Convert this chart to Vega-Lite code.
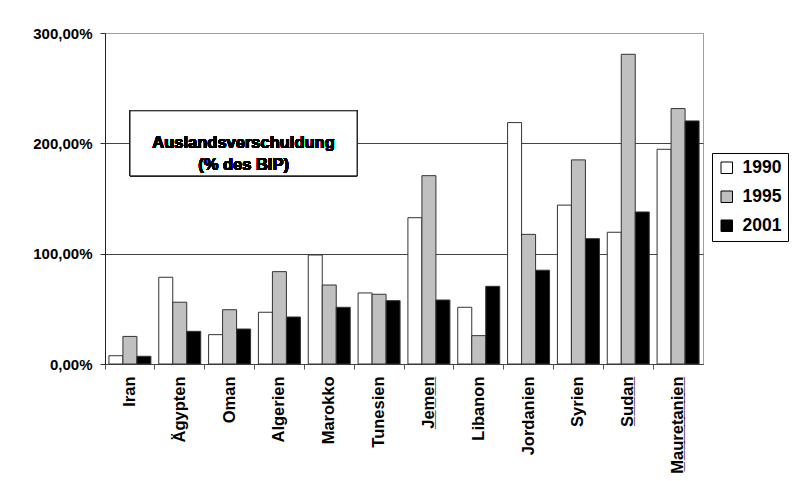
{
  "$schema": "https://vega.github.io/schema/vega-lite/v6.json",
  "width": 598,
  "height": 331,
  "autosize": {"type": "none"},
  "padding": {"left": 105, "top": 33, "right": 91, "bottom": 117},
  "background": "white",
  "config": {
    "font": "Liberation Sans",
    "view": {"stroke": "#a0a0a0", "strokeWidth": 1}
  },
  "data": {
    "values": [
      {"land": "Iran", "jahr": "1990", "wert": 7.5},
      {"land": "Iran", "jahr": "1995", "wert": 25},
      {"land": "Iran", "jahr": "2001", "wert": 7},
      {"land": "Ägypten", "jahr": "1990", "wert": 78.6},
      {"land": "Ägypten", "jahr": "1995", "wert": 56},
      {"land": "Ägypten", "jahr": "2001", "wert": 29.6},
      {"land": "Oman", "jahr": "1990", "wert": 26.6},
      {"land": "Oman", "jahr": "1995", "wert": 49.2},
      {"land": "Oman", "jahr": "2001", "wert": 31.7},
      {"land": "Algerien", "jahr": "1990", "wert": 46.9},
      {"land": "Algerien", "jahr": "1995", "wert": 83.7},
      {"land": "Algerien", "jahr": "2001", "wert": 42.6},
      {"land": "Marokko", "jahr": "1990", "wert": 98.8},
      {"land": "Marokko", "jahr": "1995", "wert": 71.6},
      {"land": "Marokko", "jahr": "2001", "wert": 51.4},
      {"land": "Tunesien", "jahr": "1990", "wert": 64.4},
      {"land": "Tunesien", "jahr": "1995", "wert": 63.2},
      {"land": "Tunesien", "jahr": "2001", "wert": 57.4},
      {"land": "Jemen", "jahr": "1990", "wert": 132.6},
      {"land": "Jemen", "jahr": "1995", "wert": 170.7},
      {"land": "Jemen", "jahr": "2001", "wert": 58},
      {"land": "Libanon", "jahr": "1990", "wert": 51.4},
      {"land": "Libanon", "jahr": "1995", "wert": 25.7},
      {"land": "Libanon", "jahr": "2001", "wert": 70.4},
      {"land": "Jordanien", "jahr": "1990", "wert": 218.8},
      {"land": "Jordanien", "jahr": "1995", "wert": 117.5},
      {"land": "Jordanien", "jahr": "2001", "wert": 85},
      {"land": "Syrien", "jahr": "1990", "wert": 144},
      {"land": "Syrien", "jahr": "1995", "wert": 185},
      {"land": "Syrien", "jahr": "2001", "wert": 113.6},
      {"land": "Sudan", "jahr": "1990", "wert": 119.4},
      {"land": "Sudan", "jahr": "1995", "wert": 280.7},
      {"land": "Sudan", "jahr": "2001", "wert": 137.8},
      {"land": "Mauretanien", "jahr": "1990", "wert": 194.6},
      {"land": "Mauretanien", "jahr": "1995", "wert": 231.5},
      {"land": "Mauretanien", "jahr": "2001", "wert": 220.3}
    ]
  },
  "layer": [
    {
      "mark": {"type": "bar", "stroke": "#333333", "strokeWidth": 1},
      "encoding": {
        "x": {
          "field": "land",
          "type": "nominal",
          "scale": {
            "domain": ["Iran", "Ägypten", "Oman", "Algerien", "Marokko", "Tunesien", "Jemen", "Libanon", "Jordanien", "Syrien", "Sudan", "Mauretanien"],
            "paddingInner": 0,
            "paddingOuter": 0
          },
          "axis": {
            "title": null,
            "bandPosition": 0,
            "labelAngle": -90,
            "labelAlign": "right",
            "labelBaseline": "middle",
            "labelFontSize": 16.5,
            "labelFontWeight": "bold",
            "labelColor": "#000000",
            "labelPadding": 7,
            "labelExpr": "datum.value == 'Jemen' ? 'J̲e̲m̲e̲n̲' : datum.value == 'Sudan' ? 'S̲u̲d̲a̲n̲' : datum.value == 'Mauretanien' ? 'M̲a̲u̲r̲e̲t̲a̲n̲i̲e̲n̲' : datum.value",
            "tickSize": 5,
            "tickColor": "#555555",
            "domainColor": "#444444",
            "grid": false
          }
        },
        "xOffset": {
          "field": "jahr",
          "type": "nominal",
          "scale": {"domain": ["1990", "1995", "2001"], "paddingInner": 0, "paddingOuter": 0.28}
        },
        "y": {
          "field": "wert",
          "type": "quantitative",
          "scale": {"domain": [0, 300], "nice": false},
          "axis": {
            "title": null,
            "values": [0, 100, 200, 300],
            "labelExpr": "replace(format(datum.value, '.2f'), '.', ',') + '%'",
            "labelFontSize": 15,
            "labelFontWeight": "bold",
            "labelColor": "#000000",
            "labelPadding": 8,
            "tickSize": 5,
            "tickColor": "#333333",
            "domainColor": "#222222",
            "grid": true,
            "gridColor": {"condition": {"test": "datum.value === 300", "value": "#a0a0a0"}, "value": "#444444"},
            "gridOpacity": 1
          }
        },
        "fill": {
          "field": "jahr",
          "type": "nominal",
          "scale": {"domain": ["1990", "1995", "2001"], "range": ["#ffffff", "#c0c0c0", "#000000"]},
          "legend": {
            "title": null,
            "orient": "none",
            "legendX": 607,
            "legendY": 120,
            "symbolType": "square",
            "symbolSize": 132,
            "symbolStrokeColor": "#000000",
            "symbolStrokeWidth": 1,
            "labelFontSize": 17.5,
            "labelFontWeight": "bold",
            "labelColor": "#000000",
            "labelOffset": 7,
            "strokeColor": "#000000",
            "fillColor": "#ffffff",
            "padding": 6,
            "rowPadding": 10
          }
        }
      }
    },
    {
      "mark": {
        "type": "point",
        "shape": "M-1,-0.2863L1,-0.2863L1,0.2863L-1,0.2863Z",
        "size": 51529,
        "filled": true,
        "fill": "#ffffff",
        "stroke": "#222222",
        "strokeWidth": 1,
        "opacity": 1
      },
      "encoding": {
        "x": {"datum": "Oman", "type": "nominal", "bandPosition": 0.78},
        "y": {"datum": 200, "type": "quantitative"}
      }
    },
    {
      "mark": {
        "type": "text",
        "text": ["Auslandsverschuldung", "(% des BIP)"],
        "fontSize": 16.5,
        "fontWeight": "bold",
        "lineHeight": 22,
        "align": "center",
        "baseline": "middle",
        "fill": "#000000",
        "opacity": 1
      },
      "encoding": {
        "x": {"datum": "Oman", "type": "nominal", "bandPosition": 0.78},
        "y": {"datum": 200, "type": "quantitative"}
      }
    }
  ]
}
